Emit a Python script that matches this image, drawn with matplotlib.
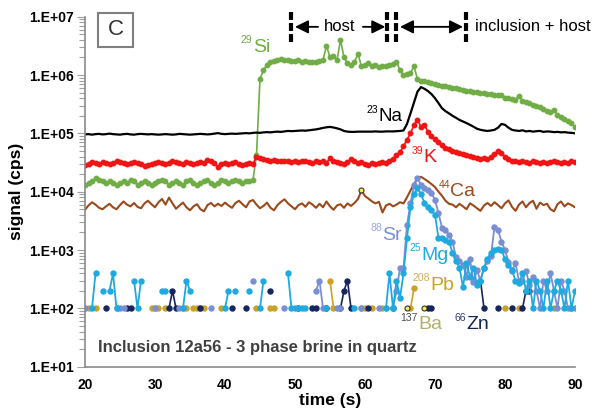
import numpy as np
import matplotlib
matplotlib.use('Agg')
import matplotlib.pyplot as plt
from matplotlib.ticker import LogLocator, NullFormatter
from matplotlib.patches import Rectangle

plt.rcParams['font.family'] = ['Liberation Sans', 'DejaVu Sans']

# acquisition time grid (s), one sweep every 0.5 s
t = np.linspace(20, 90, 141)

# major elements, kcps, one value per sweep (blocks of 10 s)
si_k = [13, 14, 15, 17, 16, 15, 14, 15, 14, 13, 14, 15, 14, 16, 15, 13, 14, 15, 14, 13,
        14, 15, 16, 15, 13, 14, 15, 14, 13, 15, 16, 14, 13, 14, 15, 16, 14, 13, 14, 16,
        15, 14, 15, 16, 15, 14, 15, 15, 16, 43, 870, 1200, 1500, 1650, 1750, 1800, 1850, 1800, 1800, 1750,
        1750, 1800, 1700, 1750, 1700, 1650, 1700, 1750, 1800, 3200, 2000, 2100, 1800, 4000, 2000, 1600, 1500, 1700, 2300, 1400,
        1500, 1600, 1450, 1500, 1350, 1400, 1450, 1500, 1550, 1700, 1200, 1000, 1050, 1100, 1400, 850, 800, 780, 760, 740,
        690, 670, 650, 640, 620, 600, 590, 570, 550, 540, 530, 520, 510, 500, 490, 480, 470, 460, 455, 450,
        410, 400, 390, 380, 440, 360, 340, 330, 310, 290, 280, 260, 240, 230, 250, 210, 190, 175, 160, 150, 130]

na_k = [96, 97, 95, 97, 98, 96, 97, 99, 97, 96, 95, 97, 98, 96, 95, 97, 98, 97, 96, 97,
        96, 95, 96, 97, 96, 95, 96, 98, 97, 96, 95, 96, 97, 98, 97, 96, 97, 99, 101, 98,
        97, 98, 99, 98, 99, 100, 101, 100, 102, 103, 102, 104, 105, 104, 106, 107, 106, 108, 110, 109,
        110, 111, 112, 111, 113, 115, 117, 120, 124, 127, 129, 126, 122, 117, 110, 107, 106, 106, 107, 107,
        107, 107, 107, 108, 107, 107, 108, 108, 108, 109, 110, 112, 145, 220, 340, 520, 620, 580, 530, 470,
        400, 330, 270, 240, 220, 200, 185, 170, 160, 150, 140, 130, 120, 115, 112, 110, 112, 115, 125, 145,
        140, 125, 115, 112, 110, 113, 108, 110, 107, 109, 110, 106, 108, 107, 105, 106, 104, 105, 103, 102, 100]

k_k = [29, 30, 32, 31, 30, 32, 31, 30, 31, 33, 32, 31, 30, 31, 32, 31, 30, 28, 29, 30,
       31, 32, 31, 30, 31, 33, 32, 31, 30, 32, 31, 30, 31, 32, 31, 35, 33, 31, 26, 30,
       31, 30, 31, 32, 30, 29, 30, 31, 30, 40, 38, 36, 35, 34, 35, 34, 33, 34, 33, 32,
       33, 32, 33, 34, 32, 31, 33, 32, 34, 31, 38, 33, 32, 31, 30, 32, 36, 33, 31, 32,
       30, 29, 31, 30, 31, 32, 31, 33, 36, 42, 48, 60, 78, 100, 140, 170, 130, 140, 105, 90,
       80, 70, 62, 57, 54, 50, 48, 46, 45, 43, 41, 40, 38, 37, 38, 36, 40, 45, 50, 46,
       40, 37, 34, 33, 32, 33, 32, 31, 33, 32, 31, 32, 31, 32, 33, 32, 31, 32, 31, 33, 32]

ca_k = [4.9, 5.8, 6.6, 6.0, 5.3, 5.0, 5.6, 6.2, 5.4, 5.0, 5.9, 6.8, 6.0, 5.6, 6.4, 5.5, 5.2, 6.3, 7.0, 6.1,
        5.4, 6.6, 7.5, 6.0, 7.9, 6.3, 5.1, 5.8, 6.5, 5.4, 4.8, 5.6, 6.1, 5.0, 4.6, 5.9, 6.4, 5.6, 6.2, 5.7,
        6.5, 5.8, 5.3, 6.4, 7.0, 6.1, 5.4, 6.8, 7.2, 6.0, 5.2, 5.7, 6.5, 5.3, 4.8, 5.9, 6.7, 7.4, 6.3, 5.6,
        5.0, 5.9, 6.3, 5.5, 6.6, 6.0, 5.3, 6.2, 5.4, 6.8, 5.6, 4.9, 5.8, 6.1, 5.3, 6.3, 5.7, 6.4, 7.5, 10.5,
        8.4, 7.6, 6.8, 6.3, 6.7, 4.4, 5.8, 6.2, 5.6, 6.0, 6.6, 6.3, 8.0, 10.5, 13.5, 17.0, 18.0, 16.5, 15.0, 13.5,
        12.0, 10.0, 8.5, 7.0, 6.2, 6.0, 5.4, 6.2, 5.6, 5.0, 6.3, 5.8, 5.2, 4.7, 5.8, 6.4, 5.7, 6.6, 5.9, 5.2,
        6.3, 7.1, 5.5, 4.7, 6.0, 6.8, 5.4, 6.4, 7.0, 5.1, 6.5, 5.9, 6.2, 5.0, 4.6, 6.1, 6.8, 5.6, 6.3, 5.9, 5.4]

# trace elements, cps, only sweeps with counts (time: value)
mg = {21: 100, 21.5: 400, 22.5: 200, 23.5: 200, 24: 400, 24.5: 100, 27: 300, 27.5: 100, 28: 300,
      31: 200, 31.5: 200, 34: 100, 34.5: 300, 35: 200, 40: 100, 40.5: 200, 41.5: 200, 43.5: 200,
      45: 100, 45.5: 300, 49: 400, 49.5: 100, 50: 100, 50.5: 100, 51: 100, 51.5: 100, 54.5: 100,
      58.5: 100, 63: 100, 63.5: 400, 64: 100, 64.5: 300, 65: 150, 65.5: 400, 66: 1600, 66.5: 5500,
      67: 9000, 67.5: 11500, 68: 9000, 68.5: 6500, 69: 5500, 69.5: 4800, 70: 4000, 70.5: 1600,
      71: 1600, 71.5: 1500, 72: 1400, 72.5: 900, 73: 650, 73.5: 500, 74: 230, 74.5: 600, 75: 350,
      75.5: 500, 76: 250, 76.5: 300, 77: 500, 77.5: 700, 78: 900, 78.5: 1000, 79: 1050, 79.5: 1000,
      80: 700, 80.5: 550, 81: 450, 81.5: 300, 82: 270, 82.5: 400, 83: 200, 83.5: 300, 84: 100,
      84.5: 300, 85: 200, 85.5: 100, 86: 300, 86.5: 100, 87: 200, 87.5: 300, 88: 200, 88.5: 100,
      89: 300, 89.5: 100, 90: 200}

sr = {20: 100, 24.5: 100, 25: 100, 25.5: 100, 30: 100, 33.5: 100, 34: 100, 38: 100, 44: 300,
      48.5: 100, 53: 200, 53.5: 300, 54: 100, 56: 100, 56.5: 100, 59.5: 100, 62: 100, 64: 100,
      64.5: 200, 65: 490, 65.5: 490, 66: 2700, 66.5: 6300, 67: 13000, 67.5: 17000, 68: 13000,
      68.5: 11500, 69: 10500, 69.5: 9500, 70: 7200, 70.5: 4300, 71: 2400, 71.5: 2200, 72: 1800,
      72.5: 1400, 73: 750, 73.5: 650, 74: 560, 74.5: 350, 75: 700, 75.5: 280, 76: 450, 76.5: 300,
      77: 500, 77.5: 650, 78: 800, 78.5: 2500, 79: 2200, 79.5: 1400, 80: 1000, 80.5: 620, 81: 440,
      81.5: 600, 82: 290, 82.5: 300, 83: 440, 83.5: 250, 84: 350, 84.5: 200, 85: 100, 85.5: 300,
      86: 200, 86.5: 400, 87: 200, 87.5: 100, 88: 300, 88.5: 200, 89: 100, 89.5: 100, 90: 100}

zn = {23: 100, 26: 100, 26.5: 100, 32: 100, 32.5: 200, 33: 100, 36.5: 100, 41: 100, 43: 100,
      46.5: 200, 50.5: 100, 52.5: 100, 53: 100, 54.5: 100, 56.5: 100, 57: 200, 57.5: 300, 58: 100,
      60.5: 100, 64: 100, 69: 100, 69.5: 100, 76.5: 300, 77: 100, 79: 100, 81: 100, 82.5: 100,
      83: 200, 83.5: 200}

pb = {20: 100, 20.5: 100, 21.5: 100, 29.5: 100, 30: 100, 30.5: 100, 31.5: 100, 34.5: 100,
      35.5: 100, 36: 100, 36.5: 100, 37: 100, 39.5: 100, 44.5: 100, 46.5: 100, 47: 100, 55: 300,
      55.5: 100, 59.5: 100, 60: 100, 61: 100, 62.5: 100, 63: 100, 66.5: 100, 67: 220, 80: 100,
      82: 100, 87: 100}

ba = {59.5: 10500, 66: 100, 68.5: 100}

y_ticks = [1e1, 1e2, 1e3, 1e4, 1e5, 1e6, 1e7]
y_tick_labels = ['1.E+01', '1.E+02', '1.E+03', '1.E+04', '1.E+05', '1.E+06', '1.E+07']
x_ticks = [20, 30, 40, 50, 60, 70, 80, 90]

si_c = '#70AD47'
k_c = '#F21414'
ca_c = '#9A4A1C'
sr_c = '#7A8ED4'
mg_c = '#1EAAE0'
zn_c = '#16255C'
pb_c = '#C9A227'


def on_grid(d):
    arr = np.full(t.size, np.nan)
    for tk, v in d.items():
        arr[int(round((tk - 20) / 0.5))] = v
    return arr


fig = plt.figure(figsize=(5.94, 4.13), dpi=100)
ax = fig.add_axes([0.1431, 0.1121, 0.8249, 0.8475])

ax.plot(t, np.array(si_k) * 1e3, '-o', color=si_c, ms=3.2, lw=1.2)
ax.plot(t, np.array(k_k) * 1e3, '-o', color=k_c, ms=3.2, lw=1.2)
ax.plot(t, np.array(na_k) * 1e3, '-', color='k', lw=1.6)
ax.plot(t, np.array(ca_k) * 1e3, '-', color=ca_c, lw=1.5)

ax.plot(t, on_grid(pb), '-o', color=pb_c, ms=3.6, lw=1.2)
ax.plot(t, on_grid(zn), '-o', color=zn_c, ms=3.6, lw=1.2)
ax.plot(t, on_grid(sr), '-o', color=sr_c, ms=3.6, lw=1.3)
ax.plot(t, on_grid(mg), '-o', color=mg_c, ms=3.6, lw=1.3)
ax.plot(t, on_grid(ba), 'o', color='#F2F04A', mec='#333333', mew=0.8, ms=3.6)

ax.set_yscale('log')
ax.set_ylim(10, 1e7)
ax.set_xlim(20, 90)
ax.set_yticks(y_ticks)
ax.set_yticklabels(y_tick_labels, fontsize=10, fontweight='bold')
ax.yaxis.set_minor_locator(LogLocator(base=10, subs=np.arange(2, 10)))
ax.yaxis.set_minor_formatter(NullFormatter())
ax.set_xticks(x_ticks)
ax.set_xticklabels([str(x) for x in x_ticks], fontsize=10, fontweight='bold')
ax.tick_params(axis='x', length=0, pad=8)
ax.tick_params(axis='y', which='major', length=5.5, width=0.8, color='#a0a0a0', pad=2.5)
ax.tick_params(axis='y', which='minor', length=4, width=0.8, color='#a0a0a0')
for s in ['top', 'right']:
    ax.spines[s].set_visible(False)
for s in ['left', 'bottom']:
    ax.spines[s].set_color('#8a8a8a')
    ax.spines[s].set_linewidth(1.2)

ax.set_ylabel('signal (cps)', fontsize=12.5, fontweight='bold', labelpad=4)
ax.set_xlabel('time (s)', fontsize=12.5, fontweight='bold', labelpad=1)


def label(t0, v0, mass, sym, col, mass_col=None, size=14):
    ax.text(t0, v0, sym, color=col, fontsize=size, ha='left', va='center')
    ax.annotate(mass, (t0, v0), xytext=(-0.3, 5), textcoords='offset points',
                ha='right', va='center', fontsize=7.5, color=mass_col or col)


label(44.0, 3.0e6, '29', 'Si', si_c)
label(61.9, 1.93e5, '23', 'Na', 'k', size=13.5)
label(68.4, 3.8e4, '39', 'K', k_c)
label(72.2, 9.9e3, '44', 'Ca', ca_c)
label(62.5, 1.8e3, '88', 'Sr', sr_c, '#9AA8DD')
label(68.1, 820, '25', 'Mg', mg_c)
label(69.3, 250, '208', 'Pb', pb_c, '#D6AE55')
label(67.6, 52, '137', 'Ba', '#B2B06A', '#4D4D4D')
label(74.5, 52, '66', 'Zn', zn_c, '#2B3A6E')

ax.text(0.0265, 0.056, 'Inclusion 12a56 - 3 phase brine in quartz', transform=ax.transAxes,
        fontsize=12, fontweight='bold', color='#404040', ha='left', va='center')

# panel letter
ax.add_patch(Rectangle((0.0265, 0.913), 0.0714, 0.0975, transform=ax.transAxes,
                       fc='white', ec='#7f7f7f', lw=1.5, clip_on=False, zorder=5))
ax.text(0.0622, 0.962, 'C', transform=ax.transAxes, fontsize=16, color='#333333',
        ha='center', va='center', zorder=6)

# host / inclusion windows
tr = ax.get_xaxis_transform()
for xv in [49.5, 63.2, 64.5, 74.4]:
    ax.plot([xv, xv], [0.929, 1.014], transform=tr, color='k', lw=3,
            ls=(0, (1.9, 0.75)), clip_on=False, solid_capstyle='butt')
ya = 0.971
arr = dict(arrowstyle='-|>', color='k', lw=1.3, mutation_scale=20, shrinkA=0, shrinkB=0)
ax.annotate('', xy=(50.0, ya), xytext=(53.3, ya), xycoords=('data', 'axes fraction'),
            arrowprops=arr, annotation_clip=False)
ax.annotate('', xy=(62.9, ya), xytext=(59.7, ya), xycoords=('data', 'axes fraction'),
            arrowprops=arr, annotation_clip=False)
ax.annotate('', xy=(65.0, ya), xytext=(74.0, ya), xycoords=('data', 'axes fraction'),
            arrowprops=dict(arr, arrowstyle='<|-|>'), annotation_clip=False)
ax.text(56.4, ya, 'host', transform=tr, fontsize=12, ha='center', va='center')
ax.text(75.7, ya, 'inclusion + host', transform=tr, fontsize=12, ha='left', va='center')

fig.savefig('out.png', dpi=100)
